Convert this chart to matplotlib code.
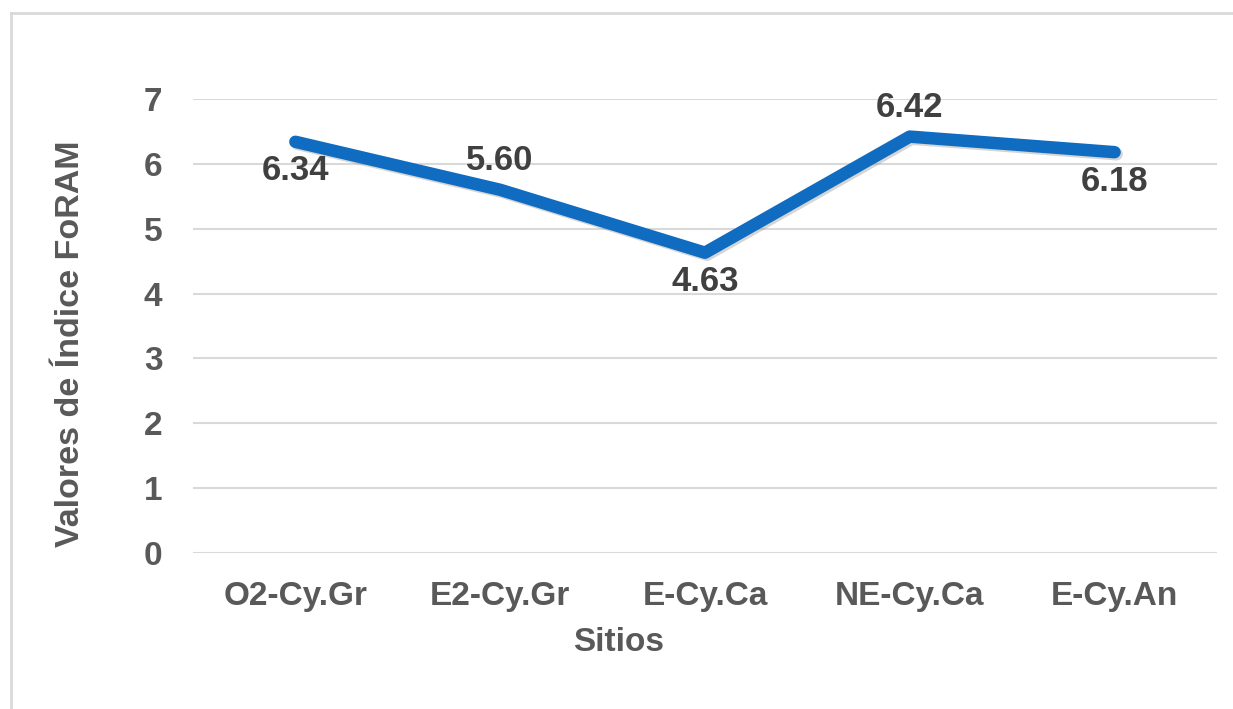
import matplotlib.pyplot as plt
import matplotlib.patheffects as pe
from matplotlib.lines import Line2D

sitios = ["O2-Cy.Gr", "E2-Cy.Gr", "E-Cy.Ca", "NE-Cy.Ca", "E-Cy.An"]
valores = [6.34, 5.60, 4.63, 6.42, 6.18]
# label placement: -1 below the point, +1 above
lado = [-1, 1, -1, 1, -1]
yticks = [0, 1, 2, 3, 4, 5, 6, 7]

plt.rcParams['font.family'] = ['Liberation Sans', 'DejaVu Sans']
plt.rcParams['font.weight'] = 'bold'

fig = plt.figure(figsize=(12.33, 7.09), dpi=100)
ax = fig.add_axes([0.1565, 0.22, 0.8305, 0.6404])

x = list(range(len(sitios)))
ax.plot(x, valores, color='#0F6CC0', lw=9, solid_capstyle='round',
        solid_joinstyle='round', zorder=3,
        path_effects=[pe.SimpleLineShadow(offset=(1.5, -1.5), shadow_color='#888888', alpha=0.35),
                      pe.Normal()])

for xi, v, s in zip(x, valores, lado):
    ax.annotate(f"{v:.2f}", (xi, v), xytext=(0, 21 * s), textcoords='offset points',
                ha='center', va='center', fontsize=25, fontweight='bold', color='#404040')

ax.set_xlim(-0.5, len(sitios) - 0.5)
ax.set_ylim(0, 7)
ax.set_yticks(yticks)
ax.set_xticks(x)
ax.set_xticklabels(sitios)
ax.grid(axis='y', color='#D9D9D9', lw=1.5)
ax.set_axisbelow(True)
for sp in ax.spines.values():
    sp.set_visible(False)
ax.tick_params(axis='both', length=0, labelsize=24, labelcolor='#595959')
ax.tick_params(axis='y', pad=22)
ax.tick_params(axis='x', pad=20)
ax.set_xlabel("Sitios", fontsize=24, fontweight='bold', color='#595959')
ax.set_ylabel("Valores de Índice FoRAM", fontsize=24.5, fontweight='bold', color='#595959')
ax.xaxis.set_label_coords(0.416, -0.163)
ax.yaxis.set_label_coords(-0.104, 0.46)

# outer chart border (top and left visible)
fig.add_artist(Line2D([0.0089, 1.0], [0.9817, 0.9817], color='#D9D9D9', lw=2, transform=fig.transFigure))
fig.add_artist(Line2D([0.0089, 0.0089], [0.0, 0.9817], color='#D9D9D9', lw=2, transform=fig.transFigure))

fig.savefig("out.png", dpi=100)
